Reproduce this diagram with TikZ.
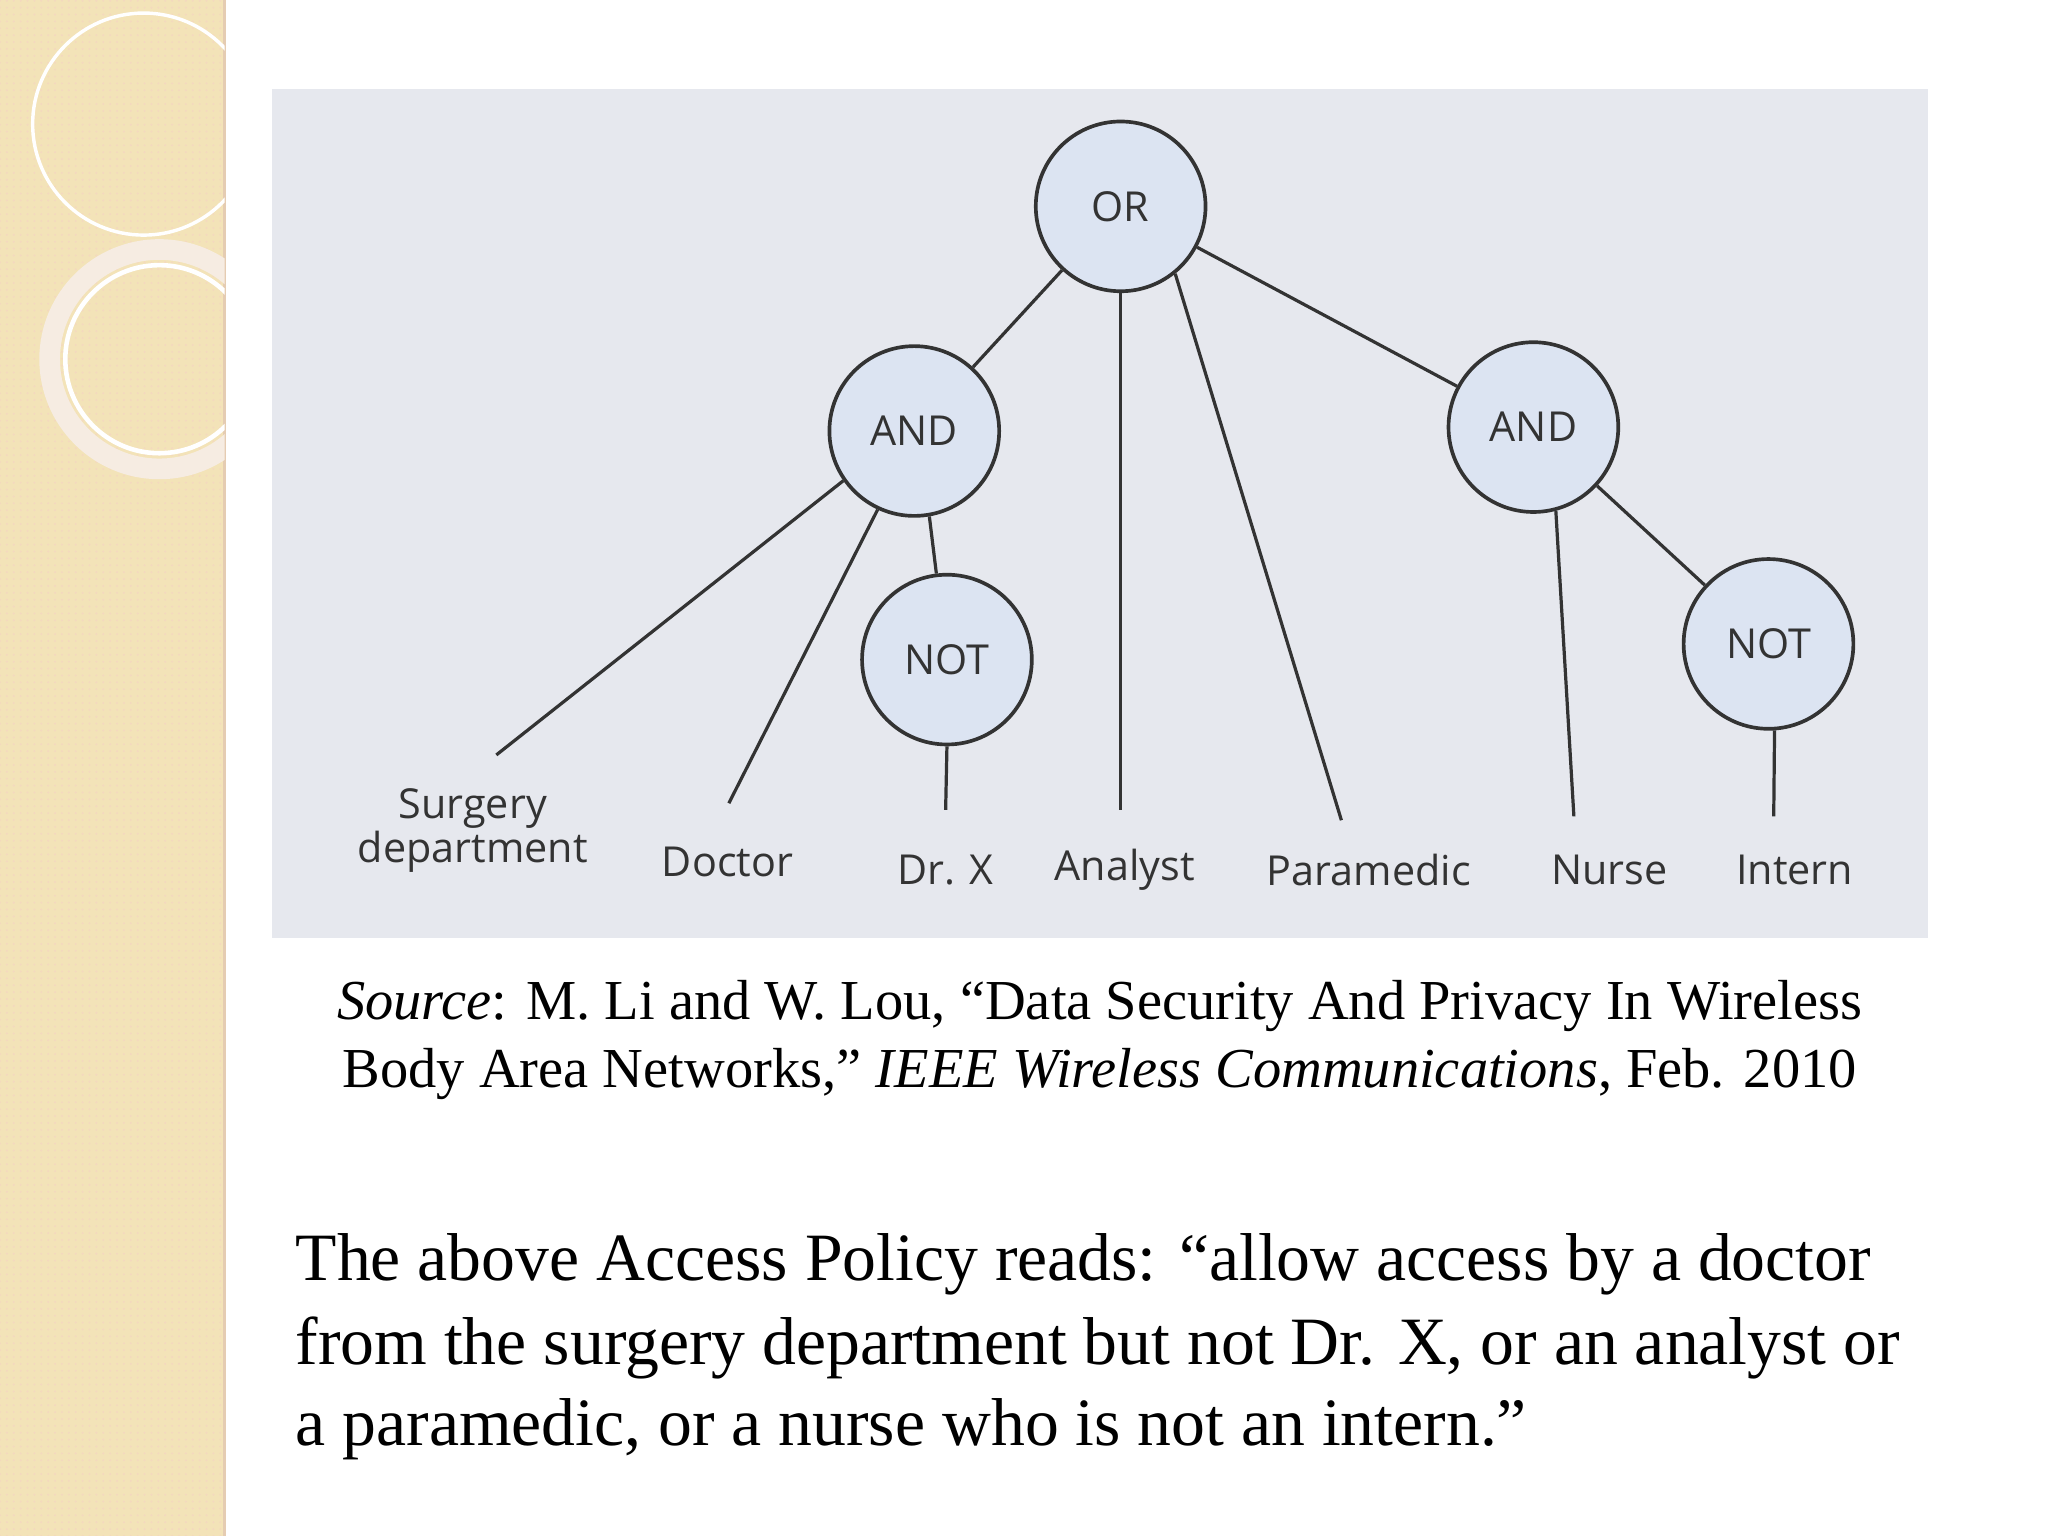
\documentclass[tikz,border=0pt]{standalone}
\usepackage{fontspec}
\setmainfont{Liberation Serif}
\newfontfamily\lbl{Open Sans}
\usetikzlibrary{patterns}
\definecolor{strip}{HTML}{F3E3B8}
\definecolor{panel}{HTML}{E6E8EE}
\definecolor{nodefill}{HTML}{DCE4F2}
\definecolor{ink}{HTML}{333333}
\begin{document}
\begin{tikzpicture}[x=0.02cm,y=-0.02cm,
  gate/.style={circle,draw=ink,line width=1.6pt,fill=nodefill,minimum size=2.6cm,font=\lbl\fontsize{18}{20}\selectfont,text=ink},
  leaf/.style={font=\lbl\fontsize{18}{19}\selectfont,text=ink,align=center,inner sep=0pt},
  edge/.style={draw=ink,line width=1.4pt},
  captxt/.style={font=\fontsize{24.6}{28}\selectfont,inner sep=0pt},
  body/.style={font=\fontsize{29.5}{34}\selectfont,inner sep=0pt,anchor=west}]
\useasboundingbox (0,0) rectangle (1568,1176);
\fill[white] (0,0) rectangle (1568,1176);
% left strip
\fill[strip] (0,0) rectangle (172,1176);
\fill[pattern=dots,pattern color=orange!40!brown!30] (0,0) rectangle (172,1176);
\draw[brown!40,line width=1.5pt] (172,0) -- (172,1176);
\begin{scope}
\clip (0,0) rectangle (172,1176);
\draw[white,line width=1.5pt] (110,95) circle (85);
\draw[white!85!brown,line width=9pt] (122,275) circle (84);
\draw[white,line width=2pt] (122,275) circle (72);
\end{scope}
% panel
\fill[panel] (208,68) rectangle (1476,718);
% gates
\node[gate] (or) at (858,158) {OR};
\node[gate] (andl) at (700,330) {AND};
\node[gate] (notl) at (725,505) {NOT};
\node[gate] (andr) at (1174,327) {AND};
\node[gate] (notr) at (1354,493) {NOT};
% leaves
\node[leaf] (surg) at (362,636) {Surgery\\department};
\node[leaf] (doc) at (557,660) {Doctor};
\node[leaf] (drx) at (724,666) {Dr. X};
\node[leaf] (ana) at (861,666) {Analyst};
\node[leaf] (para) at (1048,666) {Paramedic};
\node[leaf] (nur) at (1232,666) {Nurse};
\node[leaf] (int) at (1374,666) {Intern};
% leaf endpoints
\coordinate (cs) at (380,578);
\coordinate (cd) at (558,615);
\coordinate (cx) at (724,620);
\coordinate (ca) at (858,620);
\coordinate (cp) at (1027,628);
\coordinate (cn) at (1205,625);
\coordinate (ci) at (1358,625);
% edges
\draw[edge] (or) -- (andl);
\draw[edge] (or) -- (andr);
\draw[edge] (or.south) -- (ca);
\draw[edge] (or.-51) -- (cp);
\draw[edge] (andl.-145) -- (cs);
\draw[edge] (andl.-115) -- (cd);
\draw[edge] (andl.-80) -- (notl);
\draw[edge] (notl.south) -- (cx);
\draw[edge] (andr.-75) -- (cn);
\draw[edge] (andr) -- (notr);
\draw[edge] (notr.-86) -- (ci);
% caption
\node[captxt] (c1) at (842,770) {\textit{Source}: M. Li and W. Lou, ``Data Security And Privacy In Wireless};
\node[captxt] (c2) at (842,822) {Body Area Networks,'' \textit{IEEE Wireless Communications}, Feb. 2010};
% body
\node[body] (b1) at (226,968) {The above Access Policy reads: ``allow access by a doctor};
\node[body] (b2) at (226,1032) {from the surgery department but not Dr. X, or an analyst or};
\node[body] (b3) at (226,1094) {a paramedic, or a nurse who is not an intern.''};
\end{tikzpicture}
\end{document}
